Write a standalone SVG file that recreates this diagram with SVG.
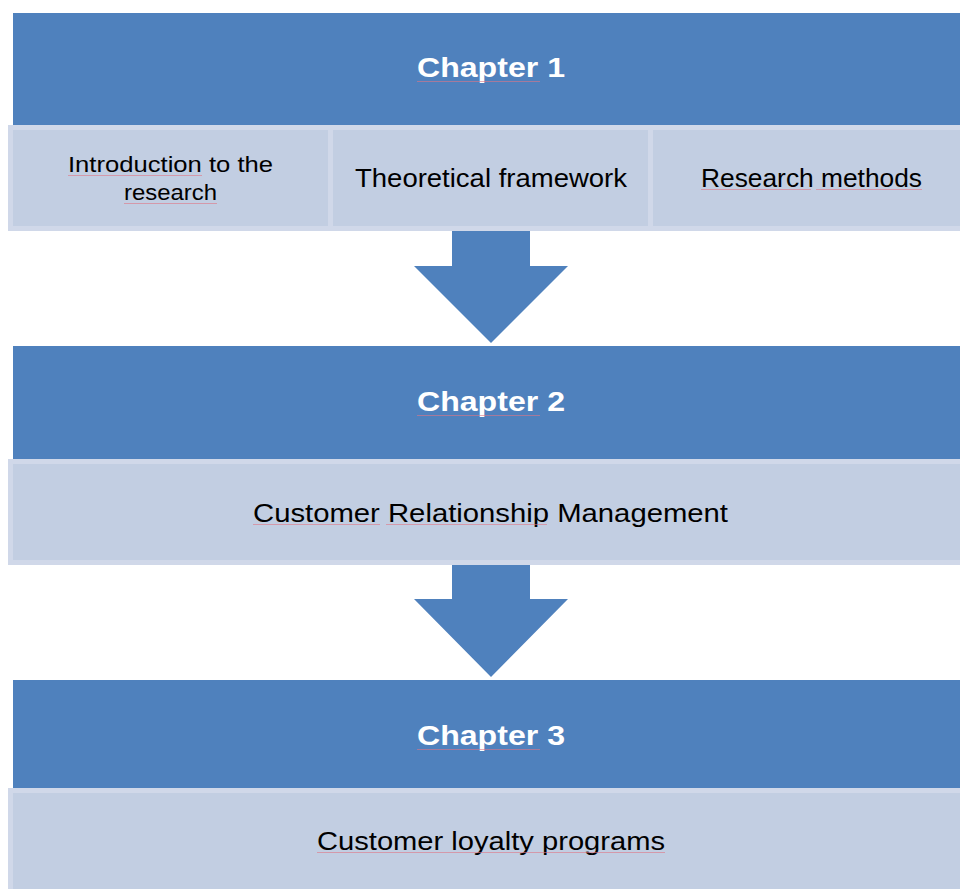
<svg xmlns="http://www.w3.org/2000/svg" width="960" height="889" viewBox="0 0 960 889">
<style>
.hdr{fill:#4F81BD}
.sub{fill:#C2CEE2;stroke:#D0D8E9;stroke-width:5}
.arrow{fill:#4F81BD}
.ht{font-family:"Liberation Sans",Arial,sans-serif;font-weight:bold;font-size:28px;fill:#FFFFFF;text-anchor:middle}
.st{font-family:"Liberation Sans",Arial,sans-serif;font-size:26px;fill:#000000;text-anchor:middle}
.st2{font-family:"Liberation Sans",Arial,sans-serif;font-size:22px;fill:#000000;text-anchor:middle}
.sq{stroke:#E07785;stroke-width:1;fill:none;opacity:0.6}
</style>
<rect width="960" height="889" fill="#FFFFFF"/>
<g id="connectors">
  <path class="arrow" d="M452,228 L530,228 L530,266 L568,266 L491,343 L414,266 L452,266 Z"/>
  <path class="arrow" d="M452,563 L530,563 L530,599 L568,599 L491,677 L414,599 L452,599 Z"/>
</g>
<g id="chapter1">
  <rect class="hdr" x="13" y="13" width="960" height="113"/>
  <text class="ht" x="491" y="77" textLength="148" lengthAdjust="spacingAndGlyphs">Chapter 1</text>
  <line class="sq" x1="417" y1="81.5" x2="540" y2="81.5"/>
</g>
<g id="intro">
  <rect class="sub" x="10.5" y="127.5" width="320" height="101"/>
  <text class="st2" x="170.5" y="171.5" textLength="205" lengthAdjust="spacingAndGlyphs">Introduction to the</text>
  <text class="st2" x="170.5" y="200" textLength="93" lengthAdjust="spacingAndGlyphs">research</text>
  <line class="sq" x1="68" y1="175.5" x2="202" y2="175.5"/>
  <line class="sq" x1="124" y1="203.5" x2="217" y2="203.5"/>
</g>
<g id="theory">
  <rect class="sub" x="330.5" y="127.5" width="320" height="101"/>
  <text class="st" x="491" y="187" textLength="272" lengthAdjust="spacingAndGlyphs">Theoretical framework</text>
</g>
<g id="methods">
  <rect class="sub" x="650.5" y="127.5" width="320" height="101"/>
  <text class="st" x="811.5" y="187" textLength="221" lengthAdjust="spacingAndGlyphs">Research methods</text>
  <line class="sq" x1="701" y1="189.5" x2="811" y2="189.5"/>
  <line class="sq" x1="816" y1="189.5" x2="922" y2="189.5"/>
</g>
<g id="chapter2">
  <rect class="hdr" x="13" y="346" width="960" height="114"/>
  <text class="ht" x="491" y="411" textLength="148" lengthAdjust="spacingAndGlyphs">Chapter 2</text>
  <line class="sq" x1="417" y1="415.5" x2="540" y2="415.5"/>
</g>
<g id="crm">
  <rect class="sub" x="10.5" y="461.5" width="960" height="101"/>
  <text class="st" x="490.5" y="521.5" textLength="475" lengthAdjust="spacingAndGlyphs">Customer Relationship Management</text>
  <line class="sq" x1="253" y1="524.5" x2="380" y2="524.5"/>
  <line class="sq" x1="386" y1="524.5" x2="547" y2="524.5"/>
</g>
<g id="chapter3">
  <rect class="hdr" x="13" y="680" width="960" height="110"/>
  <text class="ht" x="491" y="745" textLength="148" lengthAdjust="spacingAndGlyphs">Chapter 3</text>
  <line class="sq" x1="417" y1="749.5" x2="540" y2="749.5"/>
</g>
<g id="loyalty">
  <rect class="sub" x="10.5" y="790.5" width="960" height="110"/>
  <text class="st" x="491" y="850" textLength="348" lengthAdjust="spacingAndGlyphs">Customer loyalty programs</text>
  <line class="sq" x1="317" y1="852.5" x2="665" y2="852.5"/>
</g>
</svg>
